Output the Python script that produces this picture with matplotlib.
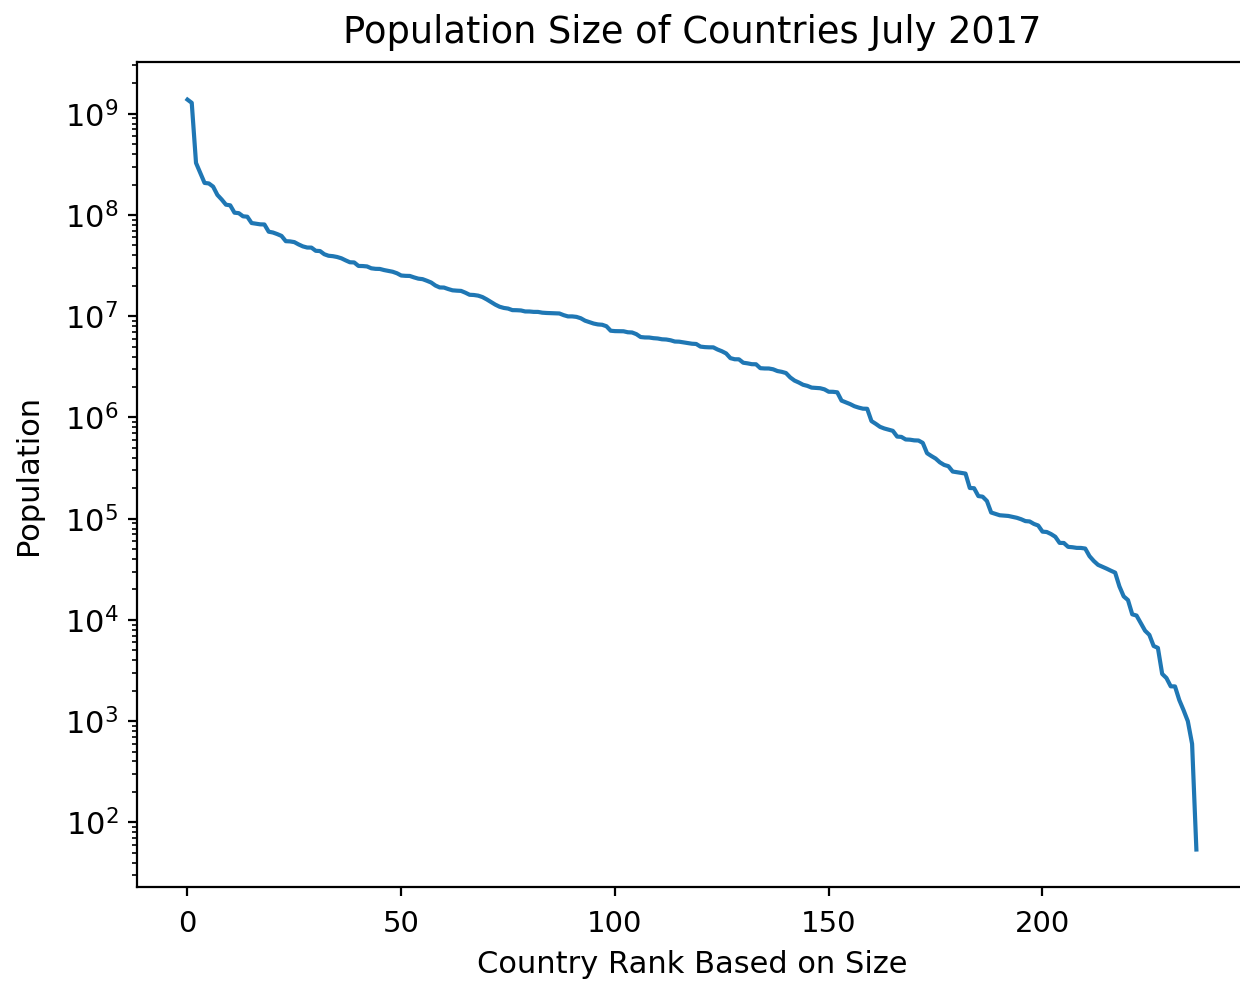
import numpy as np
import matplotlib.pyplot as plt

# July 2017 population estimates, largest first
population = [
    1379302771, 1281935911, 326625791, 260580739, 207353391, 204924861,
    190632261, 157826578, 142257519, 126451398, 124574795, 105350020,
    104256076, 97041072, 96160163, 83301151, 82021564, 80845215,
    80594017, 68414135, 67106161, 64769452, 62137802, 55123814,
    54841552, 53950935, 51181299, 48958159, 47698524, 47615739,
    44293293, 44033874, 40969443, 39570125, 39192111, 38476269,
    37345935, 35623680, 34124811, 33986655, 31381992, 31304016,
    31036656, 29748859, 29384297, 29310273, 28571770, 28036829,
    27499924, 26573706, 25248140, 25054161, 24994885, 24184810,
    23508428, 23232413, 22409381, 21529967, 20107509, 19245344,
    19196246, 18556698, 18028549, 17885245, 17789267, 17084719,
    16290913, 16204486, 15972000, 15460732, 14668522, 13805084,
    13026129, 12413867, 12075985, 11901484, 11491346, 11466756,
    11403800, 11147407, 11138234, 11038805, 11031386, 10839514,
    10768477, 10734247, 10674723, 10646714, 10248069, 9961396,
    9960487, 9850845, 9549747, 9038741, 8754413, 8468555,
    8299706, 8236303, 7965055, 7191503, 7126706, 7111024,
    7101510, 6943739, 6909701, 6653210, 6229794, 6172011,
    6163195, 6072475, 6025951, 5918919, 5888926, 5789122,
    5625118, 5605948, 5518371, 5445829, 5351277, 5320045,
    5011102, 4954674, 4930258, 4926330, 4689021, 4510327,
    4292095, 3856181, 3758571, 3753142, 3474121, 3424386,
    3360148, 3351827, 3068243, 3047987, 3045191, 2990561,
    2875422, 2823859, 2747943, 2484780, 2314307, 2214858,
    2103721, 2051363, 1972126, 1958042, 1944643, 1895250,
    1795183, 1792338, 1772255, 1467152, 1410942, 1356388,
    1291358, 1251581, 1221549, 1218208, 920938, 865267,
    808080, 778358, 758288, 737718, 647581, 642550,
    606340, 603253, 594130, 591919, 560899, 443593,
    416338, 392960, 360346, 339747, 329988, 292336,
    287881, 282814, 279070, 201025, 200108, 167358,
    164994, 149648, 115120, 111724, 108145, 107268,
    106479, 104196, 102089, 98840, 94731, 93920,
    88815, 85660, 74539, 73897, 70537, 66297,
    57713, 57559, 52715, 52263, 51504, 51430,
    50730, 42677, 38244, 35015, 33537, 32125,
    30645, 29328, 21431, 17087, 15714, 11359,
    11052, 9290, 7828, 7122, 5533, 5292,
    2931, 2667, 2210, 2205, 1618, 1285,
    1000, 596, 54,
]
rank = np.arange(len(population))

fig = plt.figure(figsize=(12.4, 9.86), dpi=100)
ax = fig.add_axes([0.1105, 0.1004, 0.895, 0.8366])

ax.plot(rank, population, color='#1f77b4', linewidth=3)
ax.set_yscale('log')

ax.set_title('Population Size of Countries July 2017', fontsize=26.5, pad=14)
ax.set_xlabel('Country Rank Based on Size', fontsize=22, labelpad=9)
ax.set_ylabel('Population', fontsize=22, labelpad=16)

ax.tick_params(axis='x', which='major', labelsize=21, length=6.5, width=1.6, pad=10)
ax.tick_params(axis='y', which='major', labelsize=22, length=6.5, width=1.6, pad=7)
ax.tick_params(axis='y', which='minor', length=3.8, width=1.2)
for s in ax.spines.values():
    s.set_linewidth(1.6)

fig.savefig('out.png', dpi=100)
